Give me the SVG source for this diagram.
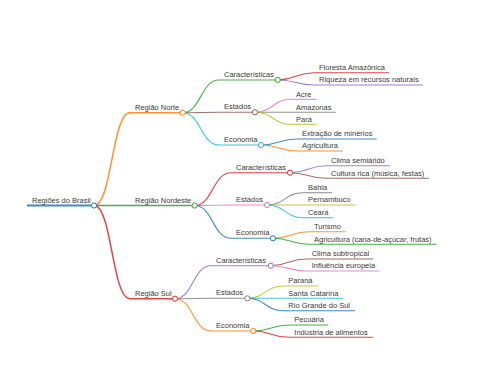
<svg xmlns="http://www.w3.org/2000/svg" width="480" height="384" viewBox="0 0 480 384">
<style>
text{font-family:"Liberation Sans",Arial,sans-serif;font-size:7.5px;fill:#3a3a3a}
.l{fill:none;stroke-width:1.1;stroke-opacity:0.85}
.c{fill:#fff;stroke-width:1}
.blue{stroke:#1f77b4}.orange{stroke:#ff7f0e}.green{stroke:#2ca02c}.red{stroke:#d62728}.purple{stroke:#9467bd}.brown{stroke:#8c564b}.pink{stroke:#e377c2}.gray{stroke:#7f7f7f}.olive{stroke:#bcbd22}.cyan{stroke:#17becf}
.d1{stroke-width:1.5}.d0{stroke-width:2}
</style>
<rect width="480" height="384" fill="#fff"/>
<g id="connectors">
<path class="l d1 orange" d="M94,205.5 C112,205.5 112,112.7 130,112.7"/>
<path class="l d1 green" d="M94,205.5 L130,205.5"/>
<path class="l d1 red" d="M94,205.5 C112,205.5 112,298.7 130,298.7"/>
<path class="l green" d="M182.7,112.7 C200.8,112.7 200.8,80 219,80"/>
<path class="l brown" d="M182.7,112.7 C200.8,112.7 200.8,112.3 219,112.3"/>
<path class="l cyan" d="M182.7,112.7 C200.8,112.7 200.8,145 219,145"/>
<path class="l red" d="M194.7,205.5 C212.8,205.5 212.8,172.7 231,172.7"/>
<path class="l pink" d="M194.7,205.5 C212.8,205.5 212.8,205 231,205"/>
<path class="l blue" d="M194.7,205.5 C212.8,205.5 212.8,238.3 231,238.3"/>
<path class="l purple" d="M175,298.7 C193,298.7 193,265.7 211,265.7"/>
<path class="l gray" d="M175,298.7 C193,298.7 193,298.3 211,298.3"/>
<path class="l orange" d="M175,298.7 C193,298.7 193,331 211,331"/>
<path class="l red" d="M277.7,80 C295.8,80 295.8,72.7 314,72.7"/>
<path class="l purple" d="M277.7,80 C295.8,80 295.8,85 314,85"/>
<path class="l pink" d="M255,112.3 C273,112.3 273,99.3 291,99.3"/>
<path class="l gray" d="M255,112.3 L291,112.3"/>
<path class="l olive" d="M255,112.3 C273,112.3 273,124.3 291,124.3"/>
<path class="l blue" d="M261,145 C279,145 279,139 297,139"/>
<path class="l orange" d="M261,145 C279,145 279,151 297,151"/>
<path class="l purple" d="M290,172.7 C308,172.7 308,165.7 326,165.7"/>
<path class="l brown" d="M290,172.7 C308,172.7 308,178.3 326,178.3"/>
<path class="l gray" d="M267,205 C285,205 285,192.7 303,192.7"/>
<path class="l olive" d="M267,205 L303,205"/>
<path class="l cyan" d="M267,205 C285,205 285,217.7 303,217.7"/>
<path class="l orange" d="M273,238.3 C291,238.3 291,231.7 309,231.7"/>
<path class="l green" d="M273,238.3 C291,238.3 291,244.3 309,244.3"/>
<path class="l brown" d="M270.7,265.7 C288.7,265.7 288.7,259 306.7,259"/>
<path class="l pink" d="M270.7,265.7 C288.7,265.7 288.7,271 306.7,271"/>
<path class="l olive" d="M247.3,298.3 C265.3,298.3 265.3,286 283.3,286"/>
<path class="l cyan" d="M247.3,298.3 L283.3,298.3"/>
<path class="l blue" d="M247.3,298.3 C265.3,298.3 265.3,310.7 283.3,310.7"/>
<path class="l green" d="M253.3,331 C271.3,331 271.3,325 289.3,325"/>
<path class="l red" d="M253.3,331 C271.3,331 271.3,337.3 289.3,337.3"/>
</g>
<g id="root"><path class="l d0 blue" d="M27,205.5H94"/><circle class="c blue" cx="94" cy="205.5" r="2.6"/><text x="32" y="202.5">Regiões do Brasil</text></g>
<g id="norte"><path class="l d1 orange" d="M130,112.7H182.7"/><circle class="c orange" cx="182.7" cy="112.7" r="2.6"/><text x="135" y="109.7">Região Norte</text></g>
<g id="nordeste"><path class="l d1 green" d="M130,205.5H194.7"/><circle class="c green" cx="194.7" cy="205.5" r="2.6"/><text x="135" y="202.5">Região Nordeste</text></g>
<g id="sul"><path class="l d1 red" d="M130,298.7H175"/><circle class="c red" cx="175" cy="298.7" r="2.6"/><text x="135" y="295.7">Região Sul</text></g>
<g id="norte-car"><path class="l green" d="M219,80H277.7"/><circle class="c green" cx="277.7" cy="80" r="2.6"/><text x="224" y="77">Características</text></g>
<g id="norte-est"><path class="l brown" d="M219,112.3H255"/><circle class="c brown" cx="255" cy="112.3" r="2.6"/><text x="224" y="109.3">Estados</text></g>
<g id="norte-eco"><path class="l cyan" d="M219,145H261"/><circle class="c cyan" cx="261" cy="145" r="2.6"/><text x="224" y="142">Economia</text></g>
<g id="nd-car"><path class="l red" d="M231,172.7H290"/><circle class="c red" cx="290" cy="172.7" r="2.6"/><text x="236" y="169.7">Características</text></g>
<g id="nd-est"><path class="l pink" d="M231,205H267"/><circle class="c pink" cx="267" cy="205" r="2.6"/><text x="236" y="202">Estados</text></g>
<g id="nd-eco"><path class="l blue" d="M231,238.3H273"/><circle class="c blue" cx="273" cy="238.3" r="2.6"/><text x="236" y="235.3">Economia</text></g>
<g id="sul-car"><path class="l purple" d="M211,265.7H270.7"/><circle class="c purple" cx="270.7" cy="265.7" r="2.6"/><text x="216" y="262.7">Características</text></g>
<g id="sul-est"><path class="l gray" d="M211,298.3H247.3"/><circle class="c gray" cx="247.3" cy="298.3" r="2.6"/><text x="216" y="295.3">Estados</text></g>
<g id="sul-eco"><path class="l orange" d="M211,331H253.3"/><circle class="c orange" cx="253.3" cy="331" r="2.6"/><text x="216" y="328">Economia</text></g>
<g id="floresta"><path class="l red" d="M314,72.7H389"/><text x="319" y="70">Floresta Amazônica</text></g>
<g id="riqueza"><path class="l purple" d="M314,85H423"/><text x="319" y="82.3">Riqueza em recursos naturais</text></g>
<g id="acre"><path class="l pink" d="M291,99.3H316.7"/><text x="296" y="96.6">Acre</text></g>
<g id="amazonas"><path class="l gray" d="M291,112.3H336"/><text x="296" y="109.6">Amazonas</text></g>
<g id="para"><path class="l olive" d="M291,124.3H316.7"/><text x="296" y="121.6">Pará</text></g>
<g id="extracao"><path class="l blue" d="M297,139H376.7"/><text x="302" y="136.3">Extração de minérios</text></g>
<g id="agri-norte"><path class="l orange" d="M297,151H342.7"/><text x="302" y="148.3">Agricultura</text></g>
<g id="clima-semi"><path class="l purple" d="M326,165.7H390"/><text x="331" y="163">Clima semiárido</text></g>
<g id="cultura"><path class="l brown" d="M326,178.3H429"/><text x="331" y="175.6">Cultura rica (música, festas)</text></g>
<g id="bahia"><path class="l gray" d="M303,192.7H332"/><text x="308" y="190">Bahia</text></g>
<g id="pernambuco"><path class="l olive" d="M303,205H355.7"/><text x="308" y="202.3">Pernambuco</text></g>
<g id="ceara"><path class="l cyan" d="M303,217.7H333"/><text x="308" y="215">Ceará</text></g>
<g id="turismo"><path class="l orange" d="M309,231.7H345.7"/><text x="314" y="229">Turismo</text></g>
<g id="agri-nd"><path class="l green" d="M309,244.3H436.7"/><text x="314" y="241.6">Agricultura (cana-de-açúcar, frutas)</text></g>
<g id="clima-sub"><path class="l brown" d="M306.7,259H373.3"/><text x="311.7" y="256.3">Clima subtropical</text></g>
<g id="influencia"><path class="l pink" d="M306.7,271H379.3"/><text x="311.7" y="268.3">Influência europeia</text></g>
<g id="parana"><path class="l olive" d="M283.3,286H318.3"/><text x="288.3" y="283.3">Paraná</text></g>
<g id="santa-catarina"><path class="l cyan" d="M283.3,298.3H343.3"/><text x="288.3" y="295.6">Santa Catarina</text></g>
<g id="rio-grande"><path class="l blue" d="M283.3,310.7H355"/><text x="288.3" y="308">Rio Grande do Sul</text></g>
<g id="pecuaria"><path class="l green" d="M289.3,325H328.3"/><text x="294.3" y="322.3">Pecuária</text></g>
<g id="industria"><path class="l red" d="M289.3,337.3H373.3"/><text x="294.3" y="334.6">Indústria de alimentos</text></g>
</svg>
